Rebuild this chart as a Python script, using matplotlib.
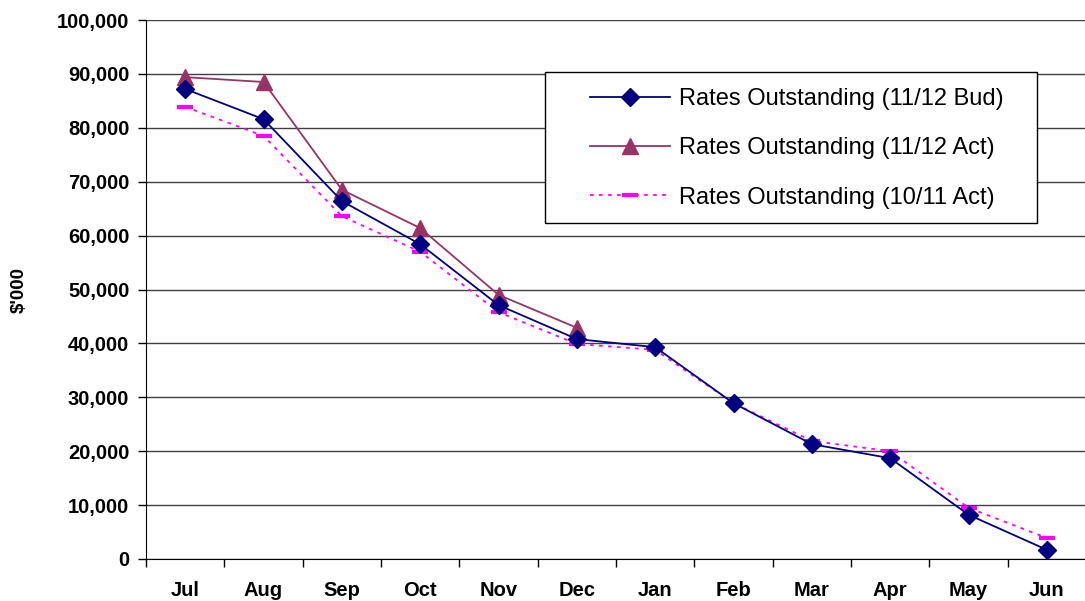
import matplotlib.pyplot as plt
from matplotlib.patches import Rectangle
from matplotlib.ticker import FuncFormatter, FixedLocator

months = ['Jul', 'Aug', 'Sep', 'Oct', 'Nov', 'Dec', 'Jan', 'Feb', 'Mar', 'Apr', 'May', 'Jun']

# values in $'000
bud_1112 = [87200, 81600, 66400, 58400, 47100, 40800, 39300, 28900, 21300, 18700, 8200, 1700]
act_1112 = [89400, 88500, 68500, 61400, 49000, 42900]
act_1011 = [83900, 78500, 63600, 57000, 45800, 39900, 38800, 28900, 21900, 20000, 9500, 3900]

plt.rcParams['font.family'] = ['Liberation Sans', 'DejaVu Sans']

fig = plt.figure(figsize=(10.85, 6.01), dpi=100)
ax = fig.add_axes([0.1346, 0.0699, 0.8664, 0.8968])

x = list(range(len(months)))

ax.plot(x, bud_1112, color='#000080', lw=1.3, marker='D', markersize=9,
        label='Rates Outstanding (11/12 Bud)', zorder=4)
ax.plot(x[:len(act_1112)], act_1112, color='#993366', lw=1.3, marker='^', markersize=11,
        label='Rates Outstanding (11/12 Act)', zorder=3)
ax.plot(x, act_1011, color='#FF00FF', lw=1.3, linestyle=(0, (2, 3)), marker='_',
        markersize=12, markeredgewidth=3, label='Rates Outstanding (10/11 Act)', zorder=3)

ax.set_xlim(-0.5, 11.5)
ax.set_ylim(0, 100000)
ax.set_yticks(range(0, 100001, 10000))
ax.yaxis.set_major_formatter(FuncFormatter(lambda v, p: f'{int(v):,}'))
ax.grid(axis='y', color='#404040', lw=1)
ax.set_axisbelow(True)

ax.set_xticks(x)
ax.set_xticklabels(months, fontsize=14.5, fontweight='bold')
ax.xaxis.set_minor_locator(FixedLocator([i - 0.5 for i in range(13)]))
ax.tick_params(axis='x', which='major', length=0, pad=16)
ax.tick_params(axis='x', which='minor', length=6, direction='out', width=1)
ax.tick_params(axis='y', length=6, width=1, direction='out', pad=6)
for lbl in ax.get_yticklabels():
    lbl.set_fontsize(14.5)
    lbl.set_fontweight('bold')

ax.set_ylabel("$'000", fontsize=13.5, fontweight='bold', labelpad=21)

for s in ['top', 'right']:
    ax.spines[s].set_visible(False)
ax.spines['left'].set_color('black')
ax.spines['bottom'].set_color('black')

# legend box drawn separately so the padding matches the original
ax.add_patch(Rectangle((0.4245, 0.6234), 0.5234, 0.2801, transform=ax.transAxes,
                       facecolor='white', edgecolor='black', lw=1, zorder=5))
leg = ax.legend(loc='upper left', bbox_to_anchor=(0.4723, 0.8739), fontsize=17,
                frameon=False, handlelength=3.4, labelspacing=1.16, borderpad=0,
                handletextpad=0.35, borderaxespad=0)
leg.set_zorder(6)

fig.savefig('out.png', dpi=100)
